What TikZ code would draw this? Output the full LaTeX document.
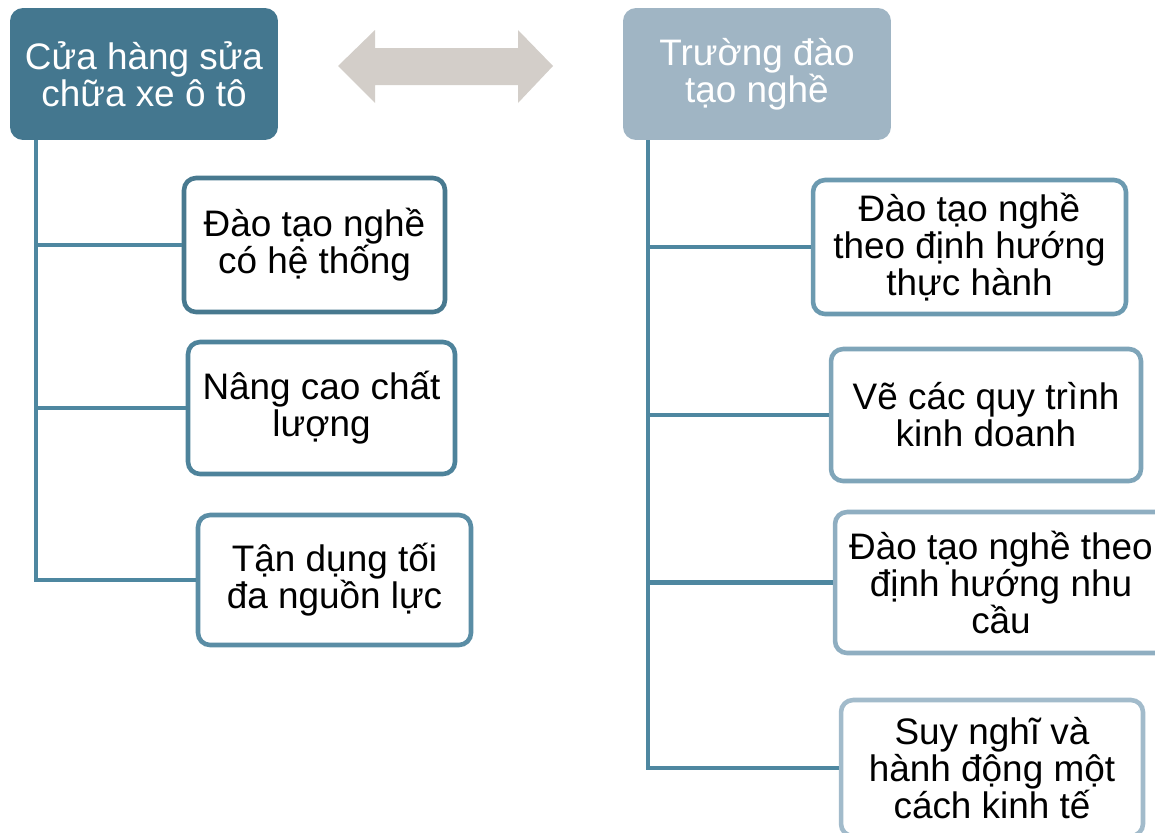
\documentclass[tikz,border=0pt]{standalone}
\usepackage{fontspec}
\setmainfont{Liberation Sans}
\definecolor{headdark}{RGB}{68,119,143}
\definecolor{headlight}{RGB}{160,181,196}
\definecolor{linkcol}{RGB}{78,135,160}
\definecolor{arrowcol}{RGB}{211,206,201}
\definecolor{bordA}{RGB}{72,121,143}
\definecolor{bordB}{RGB}{78,131,155}
\definecolor{bordC}{RGB}{90,141,165}
\definecolor{bordD}{RGB}{108,154,176}
\definecolor{bordE}{RGB}{127,165,185}
\definecolor{bordF}{RGB}{143,174,193}
\definecolor{bordG}{RGB}{162,187,203}

\begin{document}
\begin{tikzpicture}[x=0.02cm,y=-0.02cm,
every node/.style={align=center,inner sep=0pt,font=\fontsize{21}{21}\selectfont},
headbox/.style={rounded corners=0.26cm,text=white,minimum width=5.36cm,minimum height=2.64cm},
leafbox/.style={draw=#1,fill=white,line width=2.6pt,rounded corners=0.24cm},
link/.style={draw=linkcol,line width=2.5pt}]

\useasboundingbox (0,0) rectangle (1155,832);
\clip (0,0) rectangle (1155,832);

% headers
\node[headbox,fill=headdark](shop) at (144,74) {Cửa hàng sửa\\chữa xe ô tô};
\node[headbox,fill=headlight](school) at (757,74) {Trường đào\\tạo nghề};

% double arrow between the headers
\fill[arrowcol] (338,66) -- (375,30) -- (375,48) -- (518,48) -- (518,30) -- (553,66)
  -- (518,103) -- (518,85) -- (375,85) -- (375,103) -- cycle;

% left column
\node[leafbox=bordA,minimum width=5.22cm,minimum height=2.68cm](shopA) at (314.5,245) {Đào tạo nghề\\có hệ thống};
\node[leafbox=bordB,minimum width=5.34cm,minimum height=2.64cm](shopB) at (321.5,408) {Nâng cao chất\\lượng};
\node[leafbox=bordC,minimum width=5.46cm,minimum height=2.60cm](shopC) at (334.5,580) {Tận dụng tối\\đa nguồn lực};

% right column
\node[leafbox=bordD,minimum width=6.26cm,minimum height=2.68cm](schoolA) at (969.5,247) {Đào tạo nghề\\theo định hướng\\thực hành};
\node[leafbox=bordE,minimum width=6.20cm,minimum height=2.64cm](schoolB) at (986,415) {Vẽ các quy trình\\kinh doanh};
\node[leafbox=bordF,minimum width=6.64cm,minimum height=2.82cm](schoolC) at (1001,582.5) {Đào tạo nghề theo\\định hướng nhu\\cầu};
\node[leafbox=bordG,minimum width=6.04cm,minimum height=2.72cm](schoolD) at (992,768) {Suy nghĩ và\\hành động một\\cách kinh tế};

% connectors
\coordinate (shoptop) at (36,140);
\coordinate (schooltop) at (648,140);

\draw[link] (shoptop) |- (shopC.west);
\draw[link] (shoptop |- shopA.west) -- (shopA.west);
\draw[link] (shoptop |- shopB.west) -- (shopB.west);

\draw[link] (schooltop) |- (schoolD.west);
\draw[link] (schooltop |- schoolA.west) -- (schoolA.west);
\draw[link] (schooltop |- schoolB.west) -- (schoolB.west);
\draw[link] (schooltop |- schoolC.west) -- (schoolC.west);

\end{tikzpicture}
\end{document}
